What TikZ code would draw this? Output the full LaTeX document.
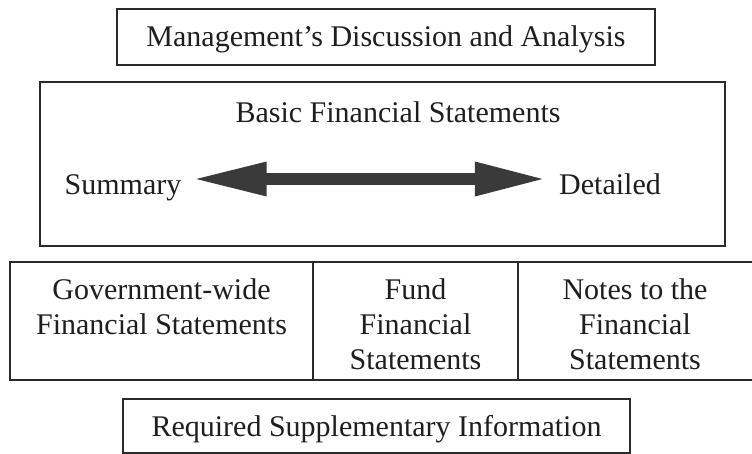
\documentclass[tikz,border=0pt]{standalone}
\usepackage{fontspec}
\setmainfont{Liberation Serif}
\usetikzlibrary{arrows.meta}
\definecolor{ink}{HTML}{1E1E1E}
\definecolor{edge}{HTML}{2A2A2A}
\definecolor{arrowfill}{HTML}{3A3A3A}
\begin{document}
\begin{tikzpicture}[x=1pt,y=-1pt,
  every node/.style={font=\fontsize{30}{35}\selectfont, text=ink},
  box/.style={draw=edge, line width=2pt, inner sep=0pt},
  capcenter/.style={inner sep=0pt, text height=20pt, text depth=0pt},
  cell/.style={draw=edge, line width=2pt, inner sep=0pt, minimum height=118pt},
  celltext/.style={align=center, inner sep=0pt, anchor=north},
  bigarrow/.style={line width=12pt, draw=arrowfill,
    {Triangle[length=75pt,width=31pt]}-{Triangle[length=72pt,width=31pt]}}
]
\useasboundingbox (0,0) rectangle (752,454);
\fill[white] (0,0) rectangle (752,454);
\clip (0,0) rectangle (752,454);

\node[box, capcenter, minimum width=538pt, minimum height=56pt] (mda) at (386,37)
  {Management\symbol{39}s Discussion and Analysis};

\node[box, minimum width=685pt, minimum height=164pt] (bfs) at (382.5,164) {};
\node[capcenter] (bfstitle) at (398,113) {Basic Financial Statements};
\node[capcenter] (sum) at (123,185) {Summary};
\node[capcenter] (det) at (610,185) {Detailed};
\draw[bigarrow] ([xshift=10pt,yshift=6pt]sum.east) -- ([xshift=-12pt,yshift=6pt]det.west);

\node[cell, minimum width=303pt] (gov) at (161.5,321) {};
\node[cell, minimum width=205pt] (fund) at (415.5,321) {};
\node[cell, minimum width=252pt] (notes) at (644,321) {};
\node[celltext] (govtxt) at ([yshift=-17.5pt]gov.north) {Government-wide\\Financial Statements};
\node[celltext] (fundtxt) at ([yshift=-17.5pt]fund.north) {Fund\\Financial\\Statements};
\node[celltext] (notestxt) at ([xshift=-9pt,yshift=-17.5pt]notes.north) {Notes to the\\Financial\\Statements};

\node[box, capcenter, minimum width=507pt, minimum height=54pt] (rsi) at (376.5,426)
  {Required Supplementary Information};
\end{tikzpicture}
\end{document}
